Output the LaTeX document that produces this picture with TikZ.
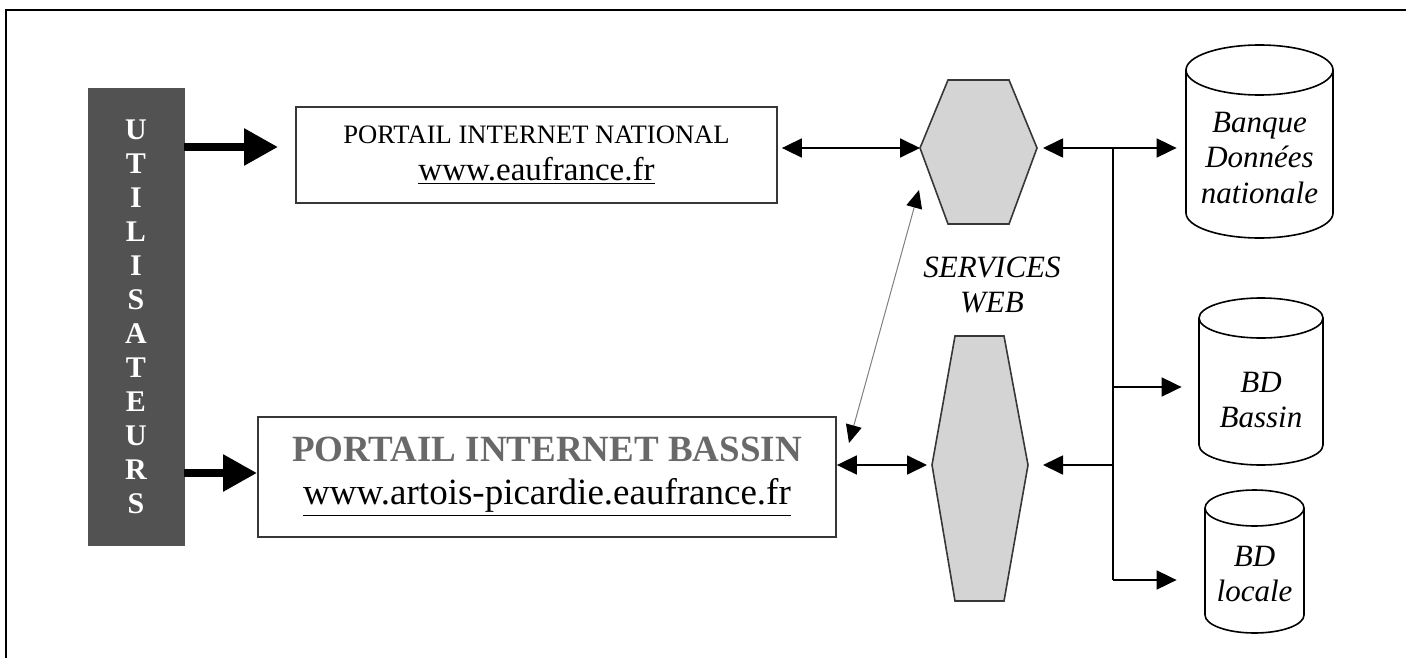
\documentclass[tikz,border=0pt]{standalone}
\usepackage{fontspec}
\setmainfont{Liberation Serif}
\usetikzlibrary{arrows.meta}

\definecolor{bargray}{RGB}{82,82,82}
\definecolor{hexgray}{RGB}{212,212,212}
\definecolor{titlegray}{RGB}{105,105,105}
\definecolor{linegray}{RGB}{55,55,55}

% cylinder: centre x, top ellipse y, bottom ellipse y, x radius, y radius
\newcommand{\dbcyl}[5]{%
  \draw[dbline] ({#1-#4},#2) -- ({#1-#4},#3)
    arc[start angle=180, end angle=0, x radius=#4, y radius=#5] -- ({#1+#4},#2);
  \draw[dbline] (#1,#2) ellipse[x radius=#4, y radius=#5];}

\begin{document}
\begin{tikzpicture}[x=0.5pt, y=-0.5pt,
  portal/.style={draw=linegray, line width=0.9pt, align=center, inner sep=0pt},
  userbar/.style={fill=bargray, draw=bargray, text=white, align=center, inner sep=0pt,
    minimum width=48pt, minimum height=228.5pt, font=\fontsize{15}{17}\selectfont\bfseries},
  hexbox/.style={fill=hexgray, draw=linegray, line width=0.8pt},
  dbline/.style={draw=black, line width=0.8pt},
  dbtext/.style={align=center, inner sep=0pt, font=\fontsize{15.5}{17.75}\selectfont\itshape},
  bigarrow/.style={line width=4.2pt, -{Triangle[length=17pt,width=17.5pt]}},
  biarrow/.style={line width=0.9pt, {Triangle[length=10pt,width=9.5pt]}-{Triangle[length=10pt,width=9.5pt]}},
  onearrow/.style={line width=0.9pt, -{Triangle[length=10pt,width=9.5pt]}},
  conn/.style={line width=0.9pt},
  thinarrow/.style={draw=gray, line width=0.5pt,
    {Triangle[length=9pt,width=8pt,color=black]}-{Triangle[length=9pt,width=8pt,color=black]}}]

\useasboundingbox (0,0) rectangle (1406,658);
\draw[line width=1.1pt] (6,658) -- (6,10) -- (1406,10);

% users
\node[userbar] (bar) at (136,316.5) {U\\T\\I\\L\\I\\S\\A\\T\\E\\U\\R\\S};

% portals
\node[portal, minimum width=240.5pt, minimum height=48pt, font=\fontsize{13.3}{18.5}\selectfont]
  (natbox) at (536.5,155)
  {PORTAIL INTERNET NATIONAL\\
   \fontsize{16.5}{18.5}\selectfont\underline{www.eaufrance.fr}};
\node[portal, minimum width=289pt, minimum height=60pt, font=\fontsize{18.5}{21.5}\selectfont]
  (basbox) at (547,477)
  {{\bfseries\color{titlegray}PORTAIL INTERNET BASSIN}\\
   \underline{www.artois-picardie.eaufrance.fr}};

% web services
\filldraw[hexbox] (948,80) -- (1009,80) -- (1037,148) -- (1009,224) -- (948,224) -- (920,148) -- cycle;
\filldraw[hexbox] (955,336) -- (1004,336) -- (1028,465) -- (1004,601) -- (955,601) -- (932,465) -- cycle;
\coordinate (hexnatW) at (920,148);
\coordinate (hexnatE) at (1037,148);
\coordinate (hexbasW) at (932,465);
\coordinate (hexbasE) at (1028,465);
\node[dbtext] (services) at (992,285) {SERVICES\\WEB};

% databases
\dbcyl{1259.5}{70}{213}{73.5}{25}
\dbcyl{1261}{318}{445}{62}{20}
\dbcyl{1254.5}{508}{615}{49.5}{18}
\node[dbtext, minimum width=73.5pt] (bdnat) at (1259.5,158) {Banque\\Données\\nationale};
\node[dbtext, minimum width=62pt] (bdbas) at (1261,400) {BD\\Bassin};
\node[dbtext, minimum width=49.5pt] (bdloc) at (1254.5,574) {BD\\locale};

% connectors
\coordinate (ar1) at ([yshift=4pt]natbox.west);
\coordinate (ar2) at ([yshift=2pt]basbox.west);
\draw[bigarrow, shorten >=8.5pt] (bar.east |- ar1) -- (ar1);
\draw[bigarrow] (bar.east |- ar2) -- (ar2);

\draw[biarrow, shorten <=2pt] (natbox.east |- hexnatW) -- (hexnatW);
\draw[biarrow, shorten >=2.5pt] (basbox.east |- hexbasW) -- (hexbasW);
\draw[biarrow, shorten <=3pt, shorten >=4.5pt] (hexnatE) -- (bdnat.west |- hexnatE);

\coordinate (hub) at (1113,148);
\coordinate (hubend) at (1113,580);
\coordinate (brbas) at (1113,387);
\draw[conn] (hub) -- (hubend);
\draw[onearrow, shorten >=8.5pt] (brbas) -- (brbas -| bdbas.west);
\draw[onearrow, shorten >=14pt] (hubend) -- (hubend -| bdloc.west);
\draw[onearrow, shorten >=7.5pt] (hub |- hexbasE) -- (hexbasE);

\coordinate (bastip) at (849,443);
\coordinate (webtip) at (919,190);
\draw[thinarrow] (bastip) -- (webtip);

\end{tikzpicture}
\end{document}
